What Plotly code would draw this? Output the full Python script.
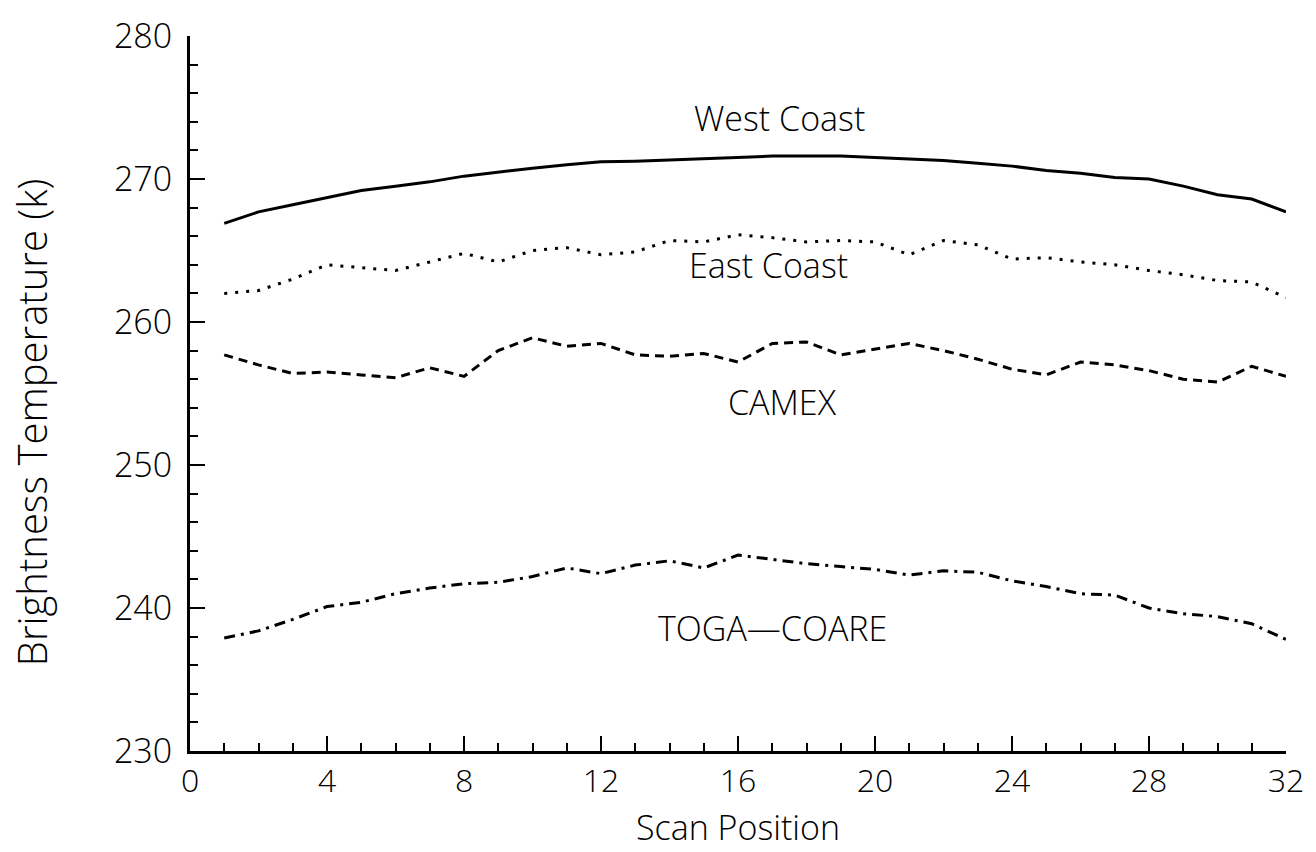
import plotly.graph_objects as go

# Scan positions across the swath
scan_position = list(range(1, 33))

# Mean brightness temperatures (K) per scan position for each region
west_coast = [266.9, 267.7, 268.2, 268.7, 269.2, 269.5, 269.8, 270.2, 270.5, 270.75,
              271.0, 271.2, 271.25, 271.35, 271.45, 271.55, 271.6, 271.6, 271.6, 271.5,
              271.4, 271.3, 271.1, 270.9, 270.6, 270.4, 270.1, 270.0, 269.5, 268.9,
              268.6, 267.7]
east_coast = [262.0, 262.2, 263.0, 264.0, 263.8, 263.6, 264.2, 264.8, 264.2, 265.0,
              265.2, 264.7, 264.9, 265.7, 265.6, 266.1, 265.9, 265.6, 265.7, 265.6,
              264.7, 265.7, 265.4, 264.4, 264.5, 264.2, 264.0, 263.6, 263.3, 262.9,
              262.8, 261.7]
camex = [257.7, 257.0, 256.4, 256.5, 256.3, 256.1, 256.8, 256.2, 258.0, 258.9,
         258.3, 258.5, 257.7, 257.6, 257.8, 257.2, 258.5, 258.6, 257.7, 258.1,
         258.5, 258.0, 257.4, 256.7, 256.3, 257.2, 257.0, 256.6, 256.0, 255.8,
         256.9, 256.2]
toga_coare = [237.9, 238.4, 239.2, 240.1, 240.4, 241.0, 241.4, 241.7, 241.8, 242.2,
              242.8, 242.4, 243.0, 243.3, 242.8, 243.7, 243.4, 243.1, 242.9, 242.7,
              242.3, 242.6, 242.5, 241.9, 241.5, 241.0, 240.9, 240.0, 239.6, 239.4,
              238.9, 237.8]

series_names = ["West Coast", "East Coast", "CAMEX", "TOGA\u2014COARE"]

FONT = "Open Sans, Noto Sans, sans-serif"

fig = go.Figure()

styles = [
    (west_coast, "solid", 3),
    (east_coast, "3px,8px", 3),
    (camex, "9px,6px", 3),
    (toga_coare, "11px,6px,3px,6px", 3),
]
for name, (vals, dash, w) in zip(series_names, styles):
    fig.add_trace(go.Scatter(
        x=scan_position, y=vals, mode="lines", name=name,
        line=dict(color="black", width=w, dash=dash),
        showlegend=False,
    ))

# In-plot series labels
label_pos = {
    "West Coast": (17.2, 274.3),
    "East Coast": (16.9, 264.0),
    "CAMEX": (17.3, 254.4),
    "TOGA\u2014COARE": (17.0, 238.6),
}
for name in series_names:
    lx, ly = label_pos[name]
    fig.add_annotation(x=lx, y=ly, text=name, showarrow=False,
                       font=dict(family=FONT, size=34, color="black", weight=300))

# Axis titles
fig.add_annotation(
    xref="paper", yref="paper", x=-0.145, y=0.46,
    xanchor="center", yanchor="middle",
    text="Brightness Temperature (k)", textangle=-90, showarrow=False,
    font=dict(family=FONT, size=40, color="black", weight=300),
)
fig.add_annotation(
    xref="paper", yref="paper", x=0.5, y=-0.106,
    xanchor="center", yanchor="middle",
    text="Scan Position", showarrow=False,
    font=dict(family=FONT, size=34, color="black", weight=300),
)

fig.update_xaxes(
    range=[0, 32], dtick=4, tick0=0,
    showline=True, linecolor="black", linewidth=3,
    ticks="inside", ticklen=15, tickwidth=2, tickcolor="black",
    minor=dict(ticks="inside", dtick=1, ticklen=8, tickwidth=2, tickcolor="black"),
    showgrid=False, zeroline=False,
    tickfont=dict(family=FONT, size=32, color="black", weight=300),
)
fig.update_yaxes(
    range=[230, 280], dtick=10, tick0=230,
    showline=True, linecolor="black", linewidth=3,
    ticks="inside", ticklen=15, tickwidth=2, tickcolor="black",
    minor=dict(ticks="inside", dtick=2, ticklen=8, tickwidth=2, tickcolor="black"),
    showgrid=False, zeroline=False,
    tickfont=dict(family=FONT, size=34, color="black", weight=300),
    ticklabelstandoff=8,
)

fig.update_layout(
    width=1316, height=852,
    margin=dict(l=190, r=26, t=27, b=101),
    paper_bgcolor="white", plot_bgcolor="white",
)

fig.write_html("out.html")
